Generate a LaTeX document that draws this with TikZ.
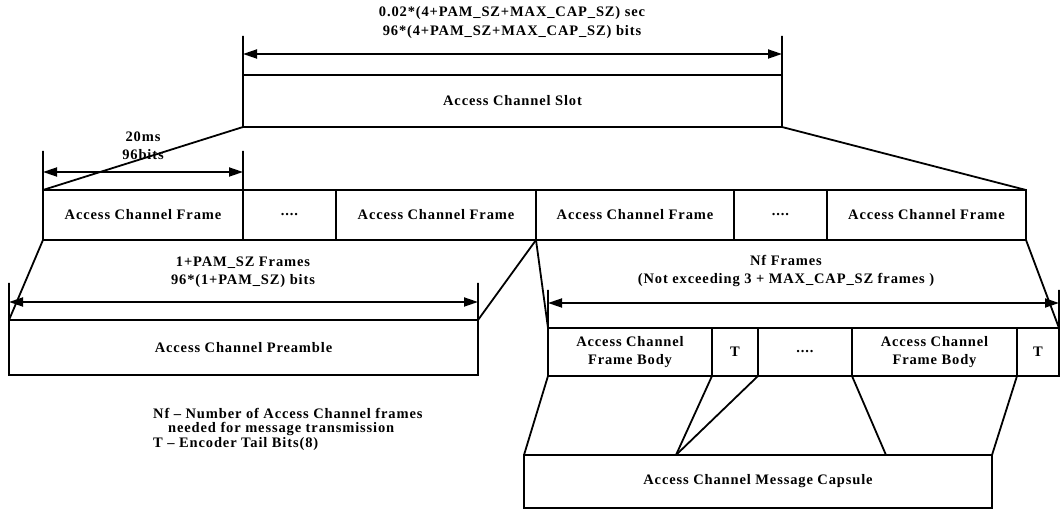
\documentclass[tikz,border=0pt]{standalone}
\usepackage{fontspec}
\setmainfont{Liberation Serif}[LetterSpace=6]
\usetikzlibrary{arrows.meta,calc}
\begin{document}
\begin{tikzpicture}[x=1bp,y=-1bp,
  every node/.style={font=\fontsize{14.5bp}{18.5bp}\selectfont\bfseries},
  box/.style={draw, line width=1.8bp, rectangle, inner sep=0pt, outer sep=0pt, align=center},
  conn/.style={line width=1.8bp},
  dimarrow/.style={line width=1.8bp, {Triangle[length=14bp,width=9bp]}-{Triangle[length=14bp,width=9bp]}},
  lbl/.style={align=center, inner sep=0pt},
  legend/.style={anchor=west, inner sep=0pt}
]
\useasboundingbox (0,0) rectangle (1063,511);

% top dimension
\node[lbl] (toptxt) at (512,22.5) {0.02*(4+PAM\_SZ+MAX\_CAP\_SZ) sec\\96*(4+PAM\_SZ+MAX\_CAP\_SZ) bits};
\node[box, minimum width=539bp, minimum height=52bp] (slot) at (512.5,101) {Access Channel Slot};
\coordinate (st1) at (243,36);
\coordinate (st2) at (782,36);
\coordinate (sa1) at (243,54);
\coordinate (sa2) at (782,54);
\draw[conn] (st1) -- (slot.north west);
\draw[conn] (st2) -- (slot.north east);
\draw[dimarrow] (sa1) -- (sa2);

% frame row
\node[box, minimum width=200bp, minimum height=50bp] (f1) at (143,215) {Access Channel Frame};
\node[box, minimum width=93bp, minimum height=50bp] (f2) at (289.5,215) {....};
\node[box, minimum width=200bp, minimum height=50bp] (f3) at (436,215) {Access Channel Frame};
\node[box, minimum width=198bp, minimum height=50bp] (f4) at (635,215) {Access Channel Frame};
\node[box, minimum width=93bp, minimum height=50bp] (f5) at (780.5,215) {....};
\node[box, minimum width=199bp, minimum height=50bp] (f6) at (926.5,215) {Access Channel Frame};

\draw[conn] (slot.south west) -- (f1.north west);
\draw[conn] (slot.south east) -- (f6.north east);

% 20 ms dimension
\node[lbl] (frtxt) at (143,146) {20ms\\96bits};
\coordinate (ft1) at (43,151);
\coordinate (ft2) at (243,151);
\coordinate (fa1) at (43,172);
\coordinate (fa2) at (243,172);
\draw[conn] (ft1) -- (f1.north west);
\draw[conn] (ft2) -- (f1.north east);
\draw[dimarrow] (fa1) -- (fa2);

% preamble
\node[box, minimum width=469bp, minimum height=55bp] (pre) at (243.5,347.5) {Access Channel Preamble};
\draw[conn] (f1.south west) -- (pre.north west);
\draw[conn] (f3.south east) -- (pre.north east);
\node[lbl] (pretxt) at (243,272) {1+PAM\_SZ Frames\\96*(1+PAM\_SZ) bits};
\coordinate (pt1) at (9,283);
\coordinate (pt2) at (478,283);
\coordinate (pa1) at (9,302);
\coordinate (pa2) at (478,302);
\draw[conn] (pt1) -- (pre.north west);
\draw[conn] (pt2) -- (pre.north east);
\draw[dimarrow] (pa1) -- (pa2);

% body row
\node[box, minimum width=164bp, minimum height=48bp] (b1) at (630,352) {Access Channel\\Frame Body};
\node[box, minimum width=46bp, minimum height=48bp] (b2) at (735,352) {T};
\node[box, minimum width=94bp, minimum height=48bp] (b3) at (805,352) {....};
\node[box, minimum width=165bp, minimum height=48bp] (b4) at (934.5,352) {Access Channel\\Frame Body};
\node[box, minimum width=42bp, minimum height=48bp] (b5) at (1038,352) {T};

\draw[conn] (f4.south west) -- (b1.north west);
\draw[conn] (f6.south east) -- (b5.north east);
\node[lbl] (nftxt) at (786,271) {Nf Frames\\(Not exceeding 3 + MAX\_CAP\_SZ frames )};
\coordinate (nt1) at (548,290);
\coordinate (nt2) at (1059,290);
\coordinate (na1) at (548,303);
\coordinate (na2) at (1059,303);
\draw[conn] (nt1) -- (b1.north west);
\draw[conn] (nt2) -- (b5.north east);
\draw[dimarrow] (na1) -- (na2);

% capsule
\node[box, minimum width=468bp, minimum height=53bp] (cap) at (758,481.5) {Access Channel Message Capsule};
\coordinate (capA) at (676,455);
\coordinate (capB) at (886,455);
\draw[conn] (b1.south west) -- (cap.north west);
\draw[conn] (b1.south east) -- (capA);
\draw[conn] (b2.south east) -- (capA);
\draw[conn] (b4.south west) -- (capB);
\draw[conn] (b4.south east) -- (cap.north east);

% legend
\node[legend] (lg1) at (153,413) {Nf – Number of Access Channel frames};
\node[legend] (lg2) at (168,428.5) {needed for message transmission};
\node[legend] (lg3) at (153,444) {T – Encoder Tail Bits(8)};
\end{tikzpicture}
\end{document}
